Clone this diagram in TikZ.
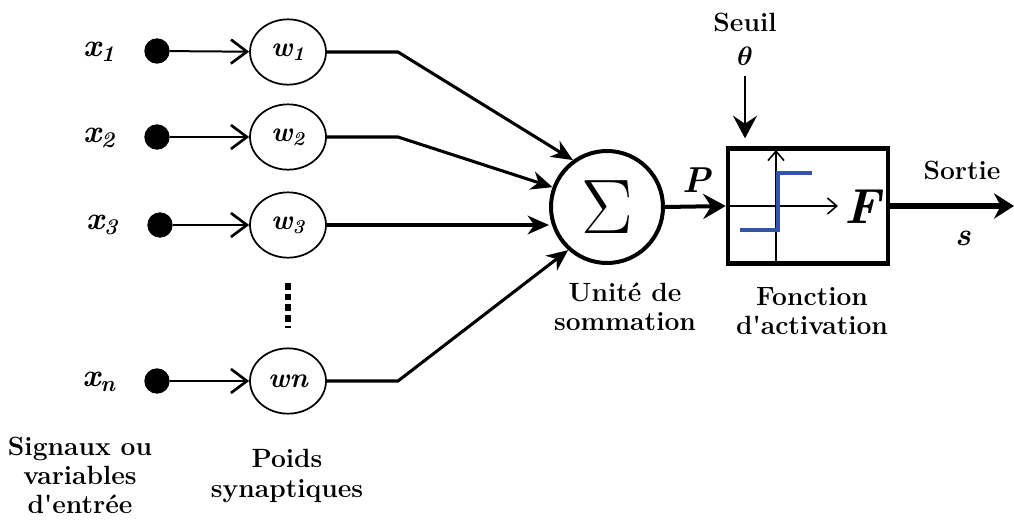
\RequirePackage{fix-cm}
\documentclass[tikz,border=0pt]{standalone}
\usepackage{fontspec}
\usepackage{amsmath}
\usetikzlibrary{arrows.meta,shapes.geometric}
\definecolor{stepblue}{RGB}{52,84,168}

\begin{document}
\begin{tikzpicture}[x=0.75pt,y=-0.75pt,
  lbl/.style={font=\fontsize{19.8}{21.8}\selectfont\bfseries, align=center, inner sep=0pt},
  var/.style={font=\fontsize{24}{24}\selectfont\bfseries\itshape, inner sep=0pt},
  dot/.style={circle, fill=black, minimum size=19pt, inner sep=0pt},
  weight/.style={ellipse, draw, line width=1.3pt, minimum width=57pt, minimum height=49pt,
    inner sep=0pt, font=\fontsize{21}{21}\selectfont\bfseries\itshape},
  inarrow/.style={line width=1.5pt, -{Straight Barb[length=12pt,width=18pt,line width=2pt]}},
  syn/.style={line width=2.3pt, -{Stealth[length=16pt,width=14pt,inset=5pt]}},
  bigarrow/.style={line width=3pt, -{Stealth[length=17pt,width=19pt,inset=6pt]}},
  axis/.style={line width=1.2pt, -{Straight Barb[length=7pt,width=12pt,line width=1.2pt]}}
]
\useasboundingbox (0,0) rectangle (1014,529);

% inputs
\node[var] (x1) at (99,52) {x\textsubscript{1}};
\node[var] (x2) at (99,138) {x\textsubscript{2}};
\node[var] (x3) at (102,225) {x\textsubscript{3}};
\node[var] (xn) at (99,382) {x\textsubscript{n}};

\node[dot] (d1) at (157,51) {};
\node[dot] (d2) at (157,137) {};
\node[dot] (d3) at (160,225) {};
\node[dot] (dn) at (157,381) {};

% synaptic weights
\node[weight] (w1) at (288,52) {w\textsubscript{1}};
\node[weight] (w2) at (288,137) {w\textsubscript{2}};
\node[weight] (w3) at (288,225) {w\textsubscript{3}};
\node[weight] (wn) at (288,381) {wn};

\draw[inarrow] (d1) -- (w1);
\draw[inarrow] (d2) -- (w2);
\draw[inarrow] (d3) -- (w3);
\draw[inarrow] (dn) -- (wn);

% vertical ellipsis between w3 and wn
\coordinate (e1) at (288,283);
\coordinate (e2) at (288,328);
\draw[line width=4.5pt, dash pattern=on 5pt off 3pt] (e1) -- (e2);

% summation unit
\node[circle, draw, line width=3pt, minimum size=84pt, inner sep=0pt] (sum) at (607,207) {};
\node[font=\fontsize{58}{58}\selectfont, inner sep=0pt] (sigma) at (sum.center) {$\Sigma$};

\coordinate (b1) at (398,52);
\coordinate (b2) at (398,137);
\coordinate (bn) at (398,381);
\draw[syn] (w1.east) -- (b1) -- (sum.126);
\draw[syn] (w2.east) -- (b2) -- (sum.160);
\draw[syn] (w3.east) -- (sum.west |- w3.east);
\draw[syn] (wn.east) -- (bn) -- (sum.228);

% activation block
\node[draw, line width=3.4pt, minimum width=120pt, minimum height=86pt, inner sep=0pt]
  (act) at (808,206) {};
\draw[bigarrow] (sum.east) -- (act.west);
\node[font=\fontsize{27}{27}\selectfont\bfseries\itshape, inner sep=0pt] (P) at (697,180) {P};

% axes and step inside the block
\coordinate (ay0) at (776,262);
\coordinate (ay1) at (776,150);
\coordinate (ax0) at (729,206);
\coordinate (ax1) at (838,206);
\draw[axis] (ay0) -- (ay1);
\draw[axis] (ax0) -- (ax1);
\coordinate (s0) at (740,230);
\coordinate (s1) at (778,230);
\coordinate (s2) at (778,173);
\coordinate (s3) at (812,173);
\draw[stepblue, line width=3pt] (s0) -- (s1) -- (s2) -- (s3);
\node[font=\fontsize{37}{37}\selectfont\bfseries\itshape, inner sep=0pt] (F) at (862,207) {F};

% threshold
\node[lbl] (seuil) at (745,22) {Seuil};
\node[font=\fontsize{20}{20}\selectfont, inner sep=0pt] (theta) at (745,56) {$\boldsymbol{\theta}$};
\draw[line width=2pt, -{Stealth[length=17pt,width=18pt,inset=6pt]}, shorten >=6pt]
  (theta.south) ++(0,10) -- (theta.south |- act.north);

% output
\coordinate (out) at (1014,206);
\draw[line width=3.8pt, -{Stealth[length=15pt,width=19pt,inset=5pt]}] (act.east) -- (out);
\node[lbl] (sortie) at (962,170) {Sortie};
\node[var] (s) at (963,238) {s};

% captions
\node[lbl] (cs) at (625,307) {Unité de\\sommation};
\node[lbl] (ca) at (812,311) {Fonction\\d\textquotesingle activation};
\node[lbl] (ci) at (80,475) {Signaux ou\\variables\\d\textquotesingle entrée};
\node[lbl] (cw) at (287,476) {Poids\\synaptiques};
\end{tikzpicture}
\end{document}
